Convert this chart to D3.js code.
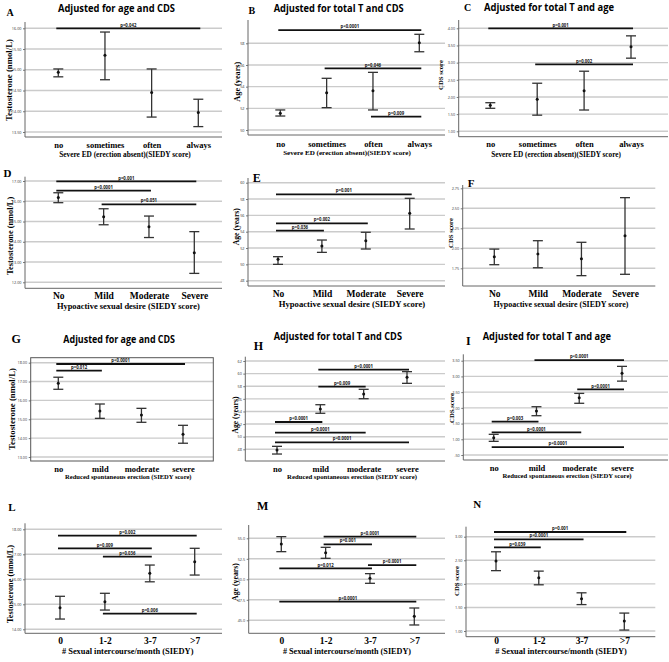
<!DOCTYPE html>
<html><head><meta charset="utf-8">
<script src="https://cdn.jsdelivr.net/npm/d3@7"></script>
<style>body{margin:0;background:#fff}svg{display:block}</style>
</head><body>
<svg id="c" width="669" height="662"></svg>
<script>
// ---------------- DATA ----------------
const catsED  = ["no","sometimes","often","always"];
const catsHSD = ["No","Mild","Moderate","Severe"];
const catsRSE = ["no","mild","moderate","severe"];
const catsSI  = ["0","1-2","3-7",">7"];

const meanA=[14.94,15.35,14.45,13.97], loA=[14.83,14.76,13.86,13.63], hiA=[15.02,15.91,15.02,14.29];
const ticksA=[13.5,14,14.5,15,15.5,16];
const brA=[[0,3,16.0,"p=0.042"]];

const meanB=[51.54,53.44,53.63,58.05], loB=[51.29,52.06,51.85,57.22], hiB=[51.85,54.77,55.32,58.83];
const ticksB=[50,52,54,56,58];
const brB=[[0,3,59.22,"p<0.0001"],[1,3,55.69,"p=0.046"],[2,3,51.23,"p=0.009"]];

const meanC=[1.757,1.93,2.18,3.46], loC=[1.67,1.47,1.62,3.13], hiC=[1.833,2.40,2.75,3.78];
const ticksC=[1,1.5,2,2.5,3,3.5,4];
const brC=[[0,3,4.0,"p=0.001"],[1,3,2.95,"p=0.002"]];

const meanD=[16.18,15.24,14.74,13.46], loD=[15.93,14.84,14.21,12.44], hiD=[16.42,15.63,15.27,14.50];
const ticksD=[12,13,14,15,16,17];
const brD=[[0,3,16.98,"p=0.001"],[0,2,16.52,"p<0.0001"],[1,3,15.85,"p=0.051"]];

const meanE=[50.62,52.25,52.9,56.25], loE=[50.0,51.47,51.88,54.33], hiE=[50.94,52.98,53.93,58.09];
const ticksE=[48,50,52,54,56,58,60];
const brE=[[0,3,58.58,"p=0.001"],[0,2,55.03,"p=0.002"],[0,1,54.12,"p=0.036"]];

const meanF=[1.895,1.929,1.87,2.158], loF=[1.795,1.757,1.658,1.675], hiF=[1.99,2.095,2.075,2.633];
const ticksF=[1.75,2,2.25,2.5,2.75];
const brF=[];

const meanG=[16.91,15.44,15.23,14.2], loG=[16.59,15.05,14.84,13.73], hiG=[17.23,15.81,15.58,14.68];
const ticksG=[13,14,15,16,17,18];
const brG=[[0,3,17.93,"p<0.0001"],[0,1,17.58,"p=0.012"]];

const meanH=[47.89,54.39,56.77,59.42], loH=[47.25,53.71,56.02,58.46], hiH=[48.47,55.07,57.51,60.31];
const ticksH=[48,50,52,54,56,58,60,62];
const brH=[[1,3,60.62,"p<0.0001"],[1,2,57.93,"p=0.009"],[0,1,52.33,"p<0.0001"],[0,2,50.64,"p<0.0001"],[0,3,49.11,"p<0.0001"]];

const meanI=[1.05,1.90,2.32,3.10], loI=[0.935,1.75,2.145,2.85], hiI=[1.158,2.036,2.46,3.32];
const ticksI=[0.5,1,1.5,2,2.5,3,3.5];
const brI=[[1,3,3.52,"p<0.0001"],[2,3,2.59,"p<0.0001"],[0,1,1.56,"p=0.003"],[0,2,1.22,"p<0.0001"],[0,3,0.75,"p<0.0001"]];

const meanL=[14.865,15.10,16.24,16.70], loL=[14.41,14.77,15.9,16.17], hiL=[15.32,15.44,16.57,17.24];
const ticksL=[14,15,16,17,18];
const brL=[[0,3,17.745,"p=0.002"],[0,2,17.24,"p=0.009"],[1,2,16.905,"p=0.036"],[1,3,14.63,"p=0.006"]];

const meanM=[54.30,53.24,50.12,45.49], loM=[53.37,52.56,49.51,44.43], hiM=[55.2,53.9,50.69,46.5];
const ticksM=[45,47.5,50,52.5,55];
const brM=[[1,3,55.2,"p<0.0001"],[1,2,54.27,"p=0.001"],[0,2,51.34,"p=0.012"],[2,3,51.74,"p<0.0001"],[0,3,47.27,"p<0.0001"]];

const meanN=[2.485,2.13,1.685,1.21], loN=[2.28,1.98,1.56,1.02], hiN=[2.68,2.27,1.81,1.38];
const ticksN=[1,1.5,2,2.5,3];
const brN=[[0,3,3.10,"p=0.001"],[0,2,2.945,"p<0.0001"],[0,1,2.775,"p=0.039"]];

const titleAge="Adjusted for age and CDS", titleTC="Adjusted for total T and CDS", titleTA="Adjusted for total T and age";
const ylT="Testosterone (nmol/L)", ylA="Age (years)", ylC="CDS score";
const xlED="Severe ED (erection absent)(SIEDY score)", xlHSD="Hypoactive sexual desire (SIEDY score)",
      xlRSE="Reduced spontaneous erection (SIEDY score)", xlSI="# Sexual intercourse/month (SIEDY)";

const f2=d3.format(".2f"), f1=d3.format(".1f"), f0=d3.format("d");
const fSPSS=d=>f2(d).replace(/^0/,"");

const panels=[
 {id:"A",cats:catsED,mean:meanA,lo:loA,hi:hiA,ticks:ticksA,fmt:f2,br:brA,title:titleAge,yl:ylT,xl:xlED},
 {id:"B",cats:catsED,mean:meanB,lo:loB,hi:hiB,ticks:ticksB,fmt:f0,br:brB,title:titleTC,yl:ylA,xl:xlED},
 {id:"C",cats:catsED,mean:meanC,lo:loC,hi:hiC,ticks:ticksC,fmt:f2,br:brC,title:titleTA,yl:ylC,xl:xlED},
 {id:"D",cats:catsHSD,mean:meanD,lo:loD,hi:hiD,ticks:ticksD,fmt:f2,br:brD,title:null,yl:ylT,xl:xlHSD},
 {id:"E",cats:catsHSD,mean:meanE,lo:loE,hi:hiE,ticks:ticksE,fmt:f0,br:brE,title:null,yl:ylA,xl:xlHSD},
 {id:"F",cats:catsHSD,mean:meanF,lo:loF,hi:hiF,ticks:ticksF,fmt:f2,br:brF,title:null,yl:ylC,xl:xlHSD},
 {id:"G",cats:catsRSE,mean:meanG,lo:loG,hi:hiG,ticks:ticksG,fmt:f2,br:brG,title:titleAge,yl:ylT,xl:xlRSE},
 {id:"H",cats:catsRSE,mean:meanH,lo:loH,hi:hiH,ticks:ticksH,fmt:f0,br:brH,title:titleTC,yl:ylA,xl:xlRSE},
 {id:"I",cats:catsRSE,mean:meanI,lo:loI,hi:hiI,ticks:ticksI,fmt:fSPSS,br:brI,title:titleTA,yl:ylC,xl:xlRSE},
 {id:"L",cats:catsSI,mean:meanL,lo:loL,hi:hiL,ticks:ticksL,fmt:f2,br:brL,title:null,yl:ylT,xl:xlSI},
 {id:"M",cats:catsSI,mean:meanM,lo:loM,hi:hiM,ticks:ticksM,fmt:f1,br:brM,title:null,yl:ylA,xl:xlSI},
 {id:"N",cats:catsSI,mean:meanN,lo:loN,hi:hiN,ticks:ticksN,fmt:f2,br:brN,title:null,yl:ylC,xl:xlSI}
];

// ---------------- LAYOUT ----------------
const layout={
 A:{L:25,R:222,T:22,B:137,xc:[58.3,198.3],yr:[132,28.3],let:[6.5,16,10],tt:[116.5,11.7,117],yl:[8.5,80,82],xt:[148.3,8.5],xa:[125,156.7,132]},
 B:{L:248,R:445,T:20,B:135,xc:[280.3,419.3],yr:[130,43.3],let:[248.5,14,10],tt:[338.7,11.7,130],yl:[237,81.7,40],xt:[146.7,8.5],xa:[347,155.3,128]},
 C:{L:458.7,R:668,T:20,B:136.7,xc:[490.3,631],yr:[131.3,28.3],let:[464,10.5,10],tt:[549,10.7,130],yl:[441,75,30],xt:[147.3,8.5],xa:[556,156.7,130]},
 D:{L:25,R:222,T:176.7,B:288.3,xc:[58.3,194.3],yr:[282.3,181],let:[3.5,177.3,11],tt:null,yl:[9.7,235.8,78],xt:[299.3,9.5],xa:[128.3,309.3,143]},
 E:{L:248,R:445,T:178,B:286,xc:[278,409.7],yr:[280.7,182.7],let:[252.7,181.7,12],tt:null,yl:[236.5,226.7,37],xt:[297.3,9.5],xa:[352,307.3,146.7]},
 F:{L:462.7,R:655.3,T:185,B:286,xc:[494.3,625],yr:[268.3,188.3],let:[467.7,187,11],tt:null,yl:[451,233,30],xt:[297.3,9.5],xa:[561,307.3,135]},
 G:{L:30.7,R:213.3,T:357.7,B:461,xc:[58.3,183],yr:[457,362.7],let:[11.5,343.3,12],tt:[119.2,343.3,111.7],yl:[11.7,409,82],xt:[471.7,8.5],xa:[128.3,479.3,126.7],box:true},
 H:{L:245.3,R:445,T:356.7,B:461,xc:[277,407],yr:[449.3,361],let:[253.7,350,12],tt:[337.8,340,128.3],yl:[235.3,415,37],xt:[471.7,8.5],xa:[352,479.3,130]},
 I:{L:463.3,R:668,T:354.3,B:460,xc:[493.7,622],yr:[455,360.7],let:[466,345,12],tt:[546.8,340,128.3],yl:[451.5,408,30],xt:[470.7,8.5],xa:[567,477.7,129.3]},
 L:{L:25,R:222,T:523.3,B:633.3,xc:[60,194.7],yr:[629.3,529.3],let:[8.3,510.7,11],tt:null,yl:[10,584,78],xt:[644.3,9.5],xa:[127.7,654.3,131.7]},
 M:{L:248.7,R:445,T:525,B:633.3,xc:[281.3,414.3],yr:[620.3,538.3],let:[257,510,12],tt:null,yl:[235.3,582,38],xt:[644.3,9.5],xa:[347,654.3,128.3]},
 N:{L:466,R:655.3,T:526.7,B:636.7,xc:[496,624.3],yr:[631,536.7],let:[473.3,508.3,11],tt:null,yl:[456.5,581,30],xt:[644.3,9.5],xa:[561,654.3,131.7]}
};

const SERIF="'Liberation Serif','Times New Roman',serif";
const SANS="'Open Sans','Liberation Sans',sans-serif";
const svg=d3.select("#c");

function fitSize(sel,w){
  const n=sel.node(); const l=n.getComputedTextLength();
  if(l>0) sel.attr("font-size",parseFloat(sel.attr("font-size"))*w/l);
}

panels.forEach(p=>{
  const lay=layout[p.id];
  const g=svg.append("g");
  const x=d3.scalePoint().domain(p.cats).range(lay.xc);
  const y=d3.scaleLinear().domain([d3.min(p.ticks),d3.max(p.ticks)]).range(lay.yr);

  g.append("g").selectAll("line").data(p.ticks).join("line")
    .attr("x1",lay.L).attr("x2",lay.R).attr("y1",d=>y(d)).attr("y2",d=>y(d))
    .attr("stroke","#cbcbcb").attr("stroke-width",1.4);

  const ya=g.append("g").attr("transform",`translate(${lay.L},0)`)
    .call(d3.axisLeft(y).tickValues(p.ticks).tickFormat(p.fmt).tickSize(2).tickPadding(1.5));
  ya.select(".domain").remove();
  ya.selectAll(".tick line").attr("stroke","#777");
  ya.selectAll(".tick text").attr("font-size",3.8).attr("font-family",SANS).attr("fill","#333");

  if(lay.box){
    g.append("rect").attr("x",lay.L).attr("y",lay.T).attr("width",lay.R-lay.L).attr("height",lay.B-lay.T)
      .attr("fill","none").attr("stroke","#555").attr("stroke-width",1);
  } else {
    g.append("line").attr("x1",lay.L).attr("x2",lay.L).attr("y1",lay.T).attr("y2",lay.B).attr("stroke","#666").attr("stroke-width",1);
    g.append("line").attr("x1",lay.L).attr("x2",lay.R).attr("y1",lay.B).attr("y2",lay.B).attr("stroke","#666").attr("stroke-width",1);
  }

  const fs=lay.xt[1];
  const xa=g.append("g").attr("transform",`translate(0,${lay.B})`)
    .call(d3.axisBottom(x).tickSize(0).tickPadding(lay.xt[0]-lay.B-0.71*fs));
  xa.select(".domain").remove();
  xa.selectAll(".tick text").attr("font-size",fs).attr("font-family",SERIF).attr("font-weight","bold").attr("fill","#000");

  p.br.forEach(b=>{
    const x1=x(p.cats[b[0]])-2, x2=x(p.cats[b[1]])+2, yy=y(b[2]);
    g.append("line").attr("x1",x1).attr("x2",x2).attr("y1",yy).attr("y2",yy).attr("stroke","#111").attr("stroke-width",1.8);
    g.append("text").attr("x",(x1+x2)/2).attr("y",yy-1.8).attr("text-anchor","middle")
      .attr("font-size",4.3).attr("font-family",SANS).attr("font-weight","bold").attr("fill","#111").text(b[3]);
  });

  p.cats.forEach((c,i)=>{
    const cx=x(c);
    const eg=g.append("g").attr("stroke","#333").attr("stroke-width",1.3);
    eg.append("line").attr("x1",cx).attr("x2",cx).attr("y1",y(p.lo[i])).attr("y2",y(p.hi[i]));
    eg.append("line").attr("x1",cx-5).attr("x2",cx+5).attr("y1",y(p.lo[i])).attr("y2",y(p.lo[i]));
    eg.append("line").attr("x1",cx-5).attr("x2",cx+5).attr("y1",y(p.hi[i])).attr("y2",y(p.hi[i]));
    g.append("circle").attr("cx",cx).attr("cy",y(p.mean[i])).attr("r",1.5).attr("fill","#111");
  });

  const xt=g.append("text").attr("x",lay.xa[0]).attr("y",lay.xa[1]).attr("text-anchor","middle")
    .attr("font-size",8.5).attr("font-family",SERIF).attr("font-weight","bold").text(p.xl);
  fitSize(xt,lay.xa[2]);

  const yt=g.append("text").attr("transform",`translate(${lay.yl[0]},${lay.yl[1]}) rotate(-90)`)
    .attr("text-anchor","middle").attr("dy","0.35em")
    .attr("font-size",9).attr("font-family",SERIF).attr("font-weight","bold").text(p.yl);
  fitSize(yt,lay.yl[2]);

  g.append("text").attr("x",lay.let[0]).attr("y",lay.let[1]).attr("font-size",lay.let[2])
    .attr("font-family",SERIF).attr("font-weight","bold").text(p.id);

  if(p.title && lay.tt){
    g.append("text").attr("x",lay.tt[0]).attr("y",lay.tt[1]).attr("text-anchor","middle")
      .attr("font-size",10.5).attr("font-family",SANS).attr("font-weight","bold")
      .attr("textLength",lay.tt[2]).attr("lengthAdjust","spacingAndGlyphs").text(p.title);
  }
});
</script>
</body></html>
